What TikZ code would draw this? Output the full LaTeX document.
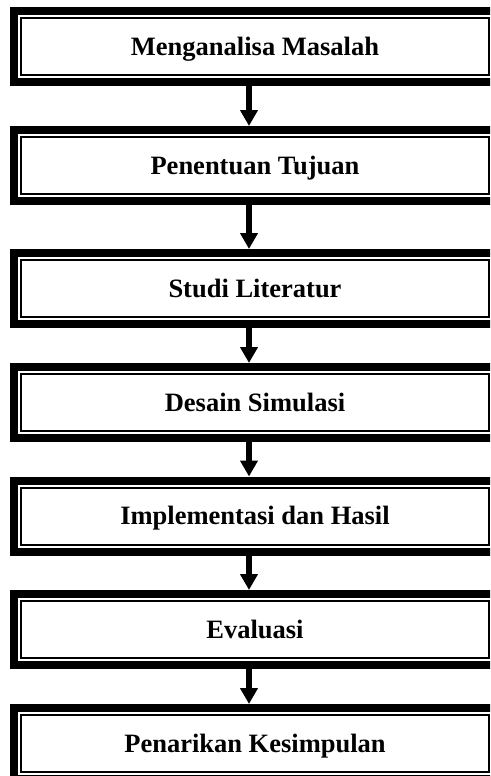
\documentclass[tikz,border=0pt]{standalone}
\usepackage{fontspec}
\setmainfont{Liberation Serif}
\usetikzlibrary{arrows.meta}
\tikzset{
  stepbox/.style={draw=black, line width=8pt, minimum width=482pt, minimum height=71pt,
    inner sep=0pt, outer sep=0pt, text height=17.5pt, text depth=0pt,
    font=\fontsize{26.5pt}{30pt}\selectfont\bfseries},
  innerline/.style={draw=black, line width=2pt},
  flowarrow/.style={draw=black, line width=6pt, -{Triangle[width=17pt,length=16pt]}}
}
\begin{document}
\begin{tikzpicture}[x=1pt,y=-1pt]
\useasboundingbox (0,0) rectangle (490,776);
\clip (0,0) rectangle (490,776);
\node[stepbox] (b1) at (255,46.5) {Menganalisa Masalah};
\node[stepbox] (b2) at (255,165.5) {Penentuan Tujuan};
\node[stepbox] (b3) at (255,288.5) {Studi Literatur};
\node[stepbox] (b4) at (255,402.5) {Desain Simulasi};
\node[stepbox] (b5) at (255,516) {Implementasi dan Hasil};
\node[stepbox] (b6) at (255,629.5) {Evaluasi};
\node[stepbox] (b7) at (255,743.5) {Penarikan Kesimpulan};
\foreach \b in {b1,b2,b3,b4,b5,b6,b7}{
  \draw[innerline] ([xshift=7pt,yshift=-7pt]\b.north west) rectangle ([xshift=-7pt,yshift=7pt]\b.south east);
}
\foreach \a/\b in {b1/b2,b2/b3,b3/b4,b4/b5,b5/b6,b6/b7}{
  \draw[flowarrow] ([xshift=-6pt]\a.south) -- ([xshift=-6pt,yshift=4pt]\b.north);
}
\end{tikzpicture}
\end{document}
